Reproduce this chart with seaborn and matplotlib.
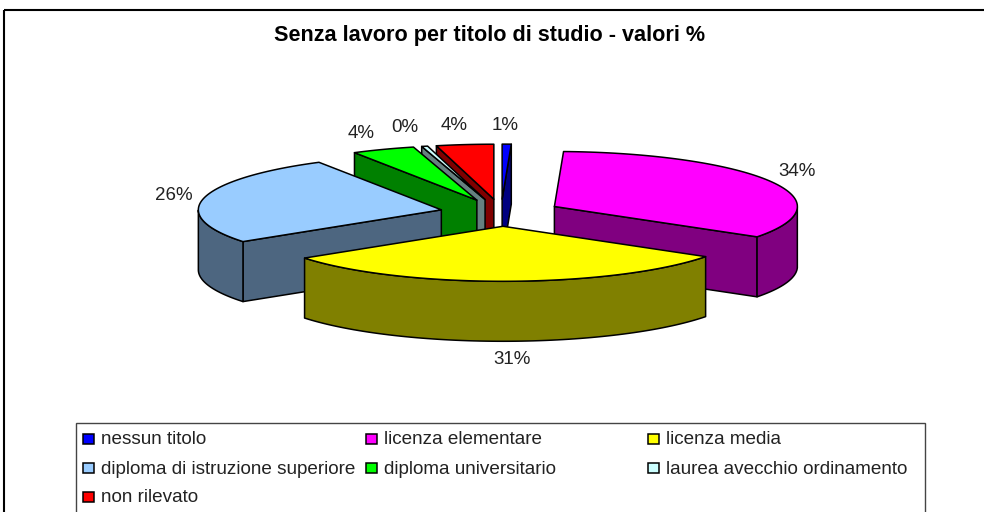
import numpy as np
import seaborn as sns
import matplotlib.pyplot as plt
from matplotlib.patches import Rectangle

# values, clockwise from 12 o'clock
categories = ["nessun titolo", "licenza elementare", "licenza media",
              "diploma di istruzione superiore", "diploma universitario",
              "laurea avecchio ordinamento", "non rilevato"]
values = [0.6, 33.7, 30.9, 26.4, 4.2, 0.4, 3.8]
top_colors = ["#0000FF", "#FF00FF", "#FFFF00", "#99CCFF", "#00FF00", "#CCFFFF", "#FF0000"]
wall_colors = ["#000080", "#800080", "#808000", "#4D6680", "#008000", "#668080", "#800000"]
title = "Senza lavoro per titolo di studio - valori %"

# pie geometry in pixels
CX, CY = 500, 212.7
RX, RY = 243, 55
EXPLODE = 0.247
DEPTH = 60

# far slices first, yellow last
draw_order = [0, 6, 5, 4, 3, 1, 2]
nudge_x = [1, 1, 2, 0, 0, 0, 1]
label_xy = [(505, 126), (797, 171), (512, 359), (174, 196), (361, 133), (405, 128), (454, 126)]

sns.set_style("white")
plt.rcParams['font.family'] = ['Liberation Sans', 'DejaVu Sans']

fig = plt.figure(figsize=(9.84, 5.12), dpi=100)
ax = fig.add_axes([0, 0, 1, 1])
ax.set_xlim(0, 984)
ax.set_ylim(512, 0)
ax.axis("off")

# chart frame, runs off the right and bottom edges
ax.add_patch(Rectangle((4, 10), 1000, 520, fill=False, ec="black", lw=1.5))

edges = np.cumsum([0] + values) / sum(values) * 2 * np.pi


def slice_xy(theta, tx, ty):
    return tx + RX * np.sin(theta), ty - RY * np.cos(theta)


for i in draw_order:
    t0, t1 = edges[i], edges[i + 1]
    mid = (t0 + t1) / 2
    tx = CX + nudge_x[i] + EXPLODE * RX * np.sin(mid)
    ty = CY - EXPLODE * RY * np.cos(mid)
    arc = np.linspace(t0, t1, 80)
    ax_x, ax_y = slice_xy(arc, tx, ty)

    # radial walls, only the ones turned to the viewer
    for t, visible in ((t0, np.sin(t0) < 0), (t1, np.sin(t1) > 0)):
        if visible:
            ex, ey = slice_xy(t, tx, ty)
            ax.fill([tx, ex, ex, tx], [ty, ey, ey + DEPTH, ty + DEPTH],
                    fc=wall_colors[i], ec="black", lw=1.1, joinstyle="round")

    # outer wall, front half of the rim
    front = arc[(arc >= np.pi / 2) & (arc <= 3 * np.pi / 2)]
    if len(front) > 1:
        fx, fy = slice_xy(front, tx, ty)
        ax.fill(np.r_[fx, fx[::-1]], np.r_[fy, fy[::-1] + DEPTH],
                fc=wall_colors[i], ec="black", lw=1.1, joinstyle="round")

    ax.fill(np.r_[tx, ax_x], np.r_[ty, ax_y], fc=top_colors[i], ec="black", lw=1.1, joinstyle="round")

for v, (x, y) in zip(values, label_xy):
    ax.text(x, y, f"{v:.0f}%", ha="center", va="center", fontsize=13.5, color="#222222")

ax.text(490, 36, title, ha="center", va="center", fontsize=15.6, fontweight="bold", color="black")

# legend box, three even columns, cut by the bottom edge
ax.add_patch(Rectangle((76, 423), 849, 110, fc="white", ec="#444444", lw=1))
for k, name in enumerate(categories):
    col, row = k % 3, k // 3
    x = 83 + col * 282.5
    y = 439 + row * 29
    ax.add_patch(Rectangle((x, y - 5), 11, 10, fc=top_colors[k], ec="black", lw=1.1))
    ax.text(x + 18, y + 1, name, ha="left", va="center", fontsize=13.6, color="#222222")

plt.savefig("out.png", dpi=100)
plt.close()
